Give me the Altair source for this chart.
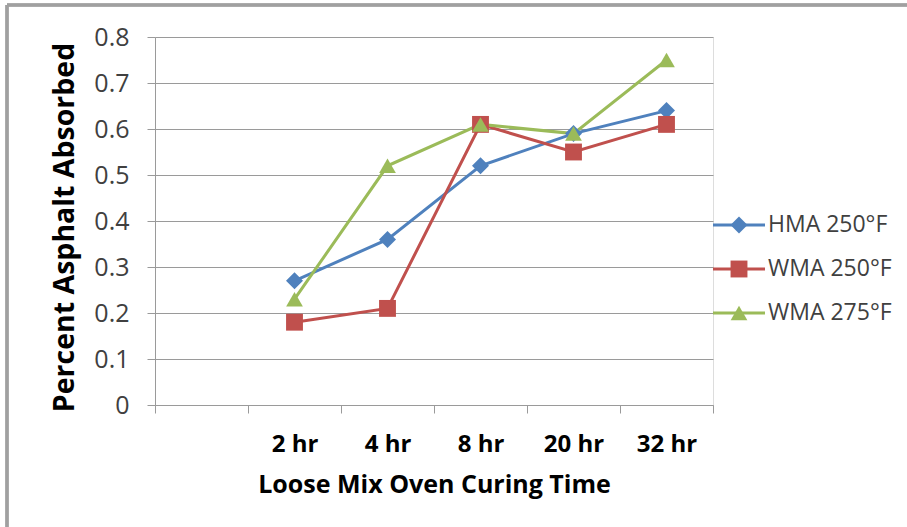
import altair as alt
import pandas as pd

# ---- data ----
categories = ["", "2 hr", "4 hr", "8 hr", "20 hr", "32 hr"]
times = ["2 hr", "4 hr", "8 hr", "20 hr", "32 hr"]
series_names = ["HMA 250°F", "WMA 250°F", "WMA 275°F"]
hma_250 = [0.27, 0.36, 0.52, 0.59, 0.64]
wma_250 = [0.18, 0.21, 0.61, 0.55, 0.61]
wma_275 = [0.23, 0.52, 0.61, 0.59, 0.75]
y_ticks = [0, 0.1, 0.2, 0.3, 0.4, 0.5, 0.6, 0.7, 0.8]

colors = ["#4F81BD", "#C0504D", "#9BBB59"]
shapes = ["diamond", "square", "triangle-up"]
sizes = [290, 280, 400]

rows = []
for name, vals in zip(series_names, [hma_250, wma_250, wma_275]):
    for t, v in zip(times, vals):
        rows.append({"time": t, "value": v, "series": name})
df = pd.DataFrame(rows)
legend_df = pd.DataFrame({"series": series_names})

W, H = 558, 368
FONT = "Open Sans"
GRID = "#9a9a9a"

color_enc = alt.Color("series:N", scale=alt.Scale(domain=series_names, range=colors), legend=None)
shape_enc = alt.Shape("series:N", scale=alt.Scale(domain=series_names, range=shapes), legend=None)
size_enc = alt.Size("series:N", scale=alt.Scale(domain=series_names, range=sizes), legend=None)

x_enc = alt.X(
    "time:O",
    scale=alt.Scale(type="band", domain=categories, paddingInner=0, paddingOuter=0),
    bandPosition=0.5,
    axis=alt.Axis(
        title="Loose Mix Oven Curing Time", tickBand="extent", labelAngle=0,
        labelFont=FONT, labelFontSize=24, labelFontWeight="bold", labelColor="#000000",
        labelPadding=19, tickSize=8, tickColor=GRID, domainColor=GRID, grid=False,
        titleFont=FONT, titleFontSize=25, titleFontWeight="bold", titleColor="#000000",
        titlePadding=16,
    ),
)
y_scale = alt.Scale(domain=[0, 0.8], nice=False, zero=True)
y_enc = alt.Y(
    "value:Q", scale=y_scale,
    axis=alt.Axis(
        title="Percent Asphalt Absorbed", values=y_ticks, format=".1~f",
        grid=True, gridColor=GRID, gridWidth=1, tickSize=8, tickColor=GRID, domainColor=GRID,
        labelFont=FONT, labelFontSize=25, labelColor="#404040", labelPadding=18,
        titleFont=FONT, titleFontSize=28.5, titleFontWeight="bold", titleColor="#000000",
        titlePadding=14, titleY=190,
    ),
)
y_enc_noaxis = alt.Y("value:Q", scale=y_scale, axis=None)

lines = alt.Chart(df).mark_line(strokeWidth=3).encode(x=x_enc, y=y_enc, color=color_enc, detail="series:N")
points = alt.Chart(df).mark_point(filled=True, opacity=1).encode(
    x=x_enc, y=y_enc_noaxis, color=color_enc, shape=shape_enc, size=size_enc)

# outer chart frame (top and left edges)
frame_left = alt.Chart(legend_df).mark_rule(color="#a0a0a0", strokeWidth=3).encode(
    x=alt.value(-148), y=alt.value(-32), y2=alt.value(H + 200))
frame_top = alt.Chart(legend_df).mark_rule(color="#a0a0a0", strokeWidth=3).encode(
    x=alt.value(-148), x2=alt.value(W + 250), y=alt.value(-32))

# legend
leg_y = alt.Y("series:N", scale=alt.Scale(type="point", domain=series_names, range=[188, 276], padding=0), axis=None)
leg_rule = alt.Chart(legend_df).mark_rule(strokeWidth=3).encode(
    x=alt.value(558), x2=alt.value(610), y=leg_y, color=color_enc)
leg_pt = alt.Chart(legend_df).mark_point(filled=True, opacity=1).encode(
    x=alt.value(584), y=leg_y, color=color_enc, shape=shape_enc, size=size_enc)
leg_txt = alt.Chart(legend_df).mark_text(
    align="left", baseline="middle", font=FONT, fontSize=23, color="#404040").encode(
    x=alt.value(613), y=leg_y, text="series:N")

chart = alt.layer(
    frame_left, frame_top, lines, points, leg_rule, leg_pt, leg_txt
).resolve_scale(y="independent").properties(
    width=W, height=H,
    autosize=alt.AutoSizeParams(type="none"),
    padding={"left": 155, "top": 37, "right": 194, "bottom": 122},
).configure_view(stroke=None).configure(background="white")

chart.save("out.html", embed_options={"renderer": "svg", "actions": False})
